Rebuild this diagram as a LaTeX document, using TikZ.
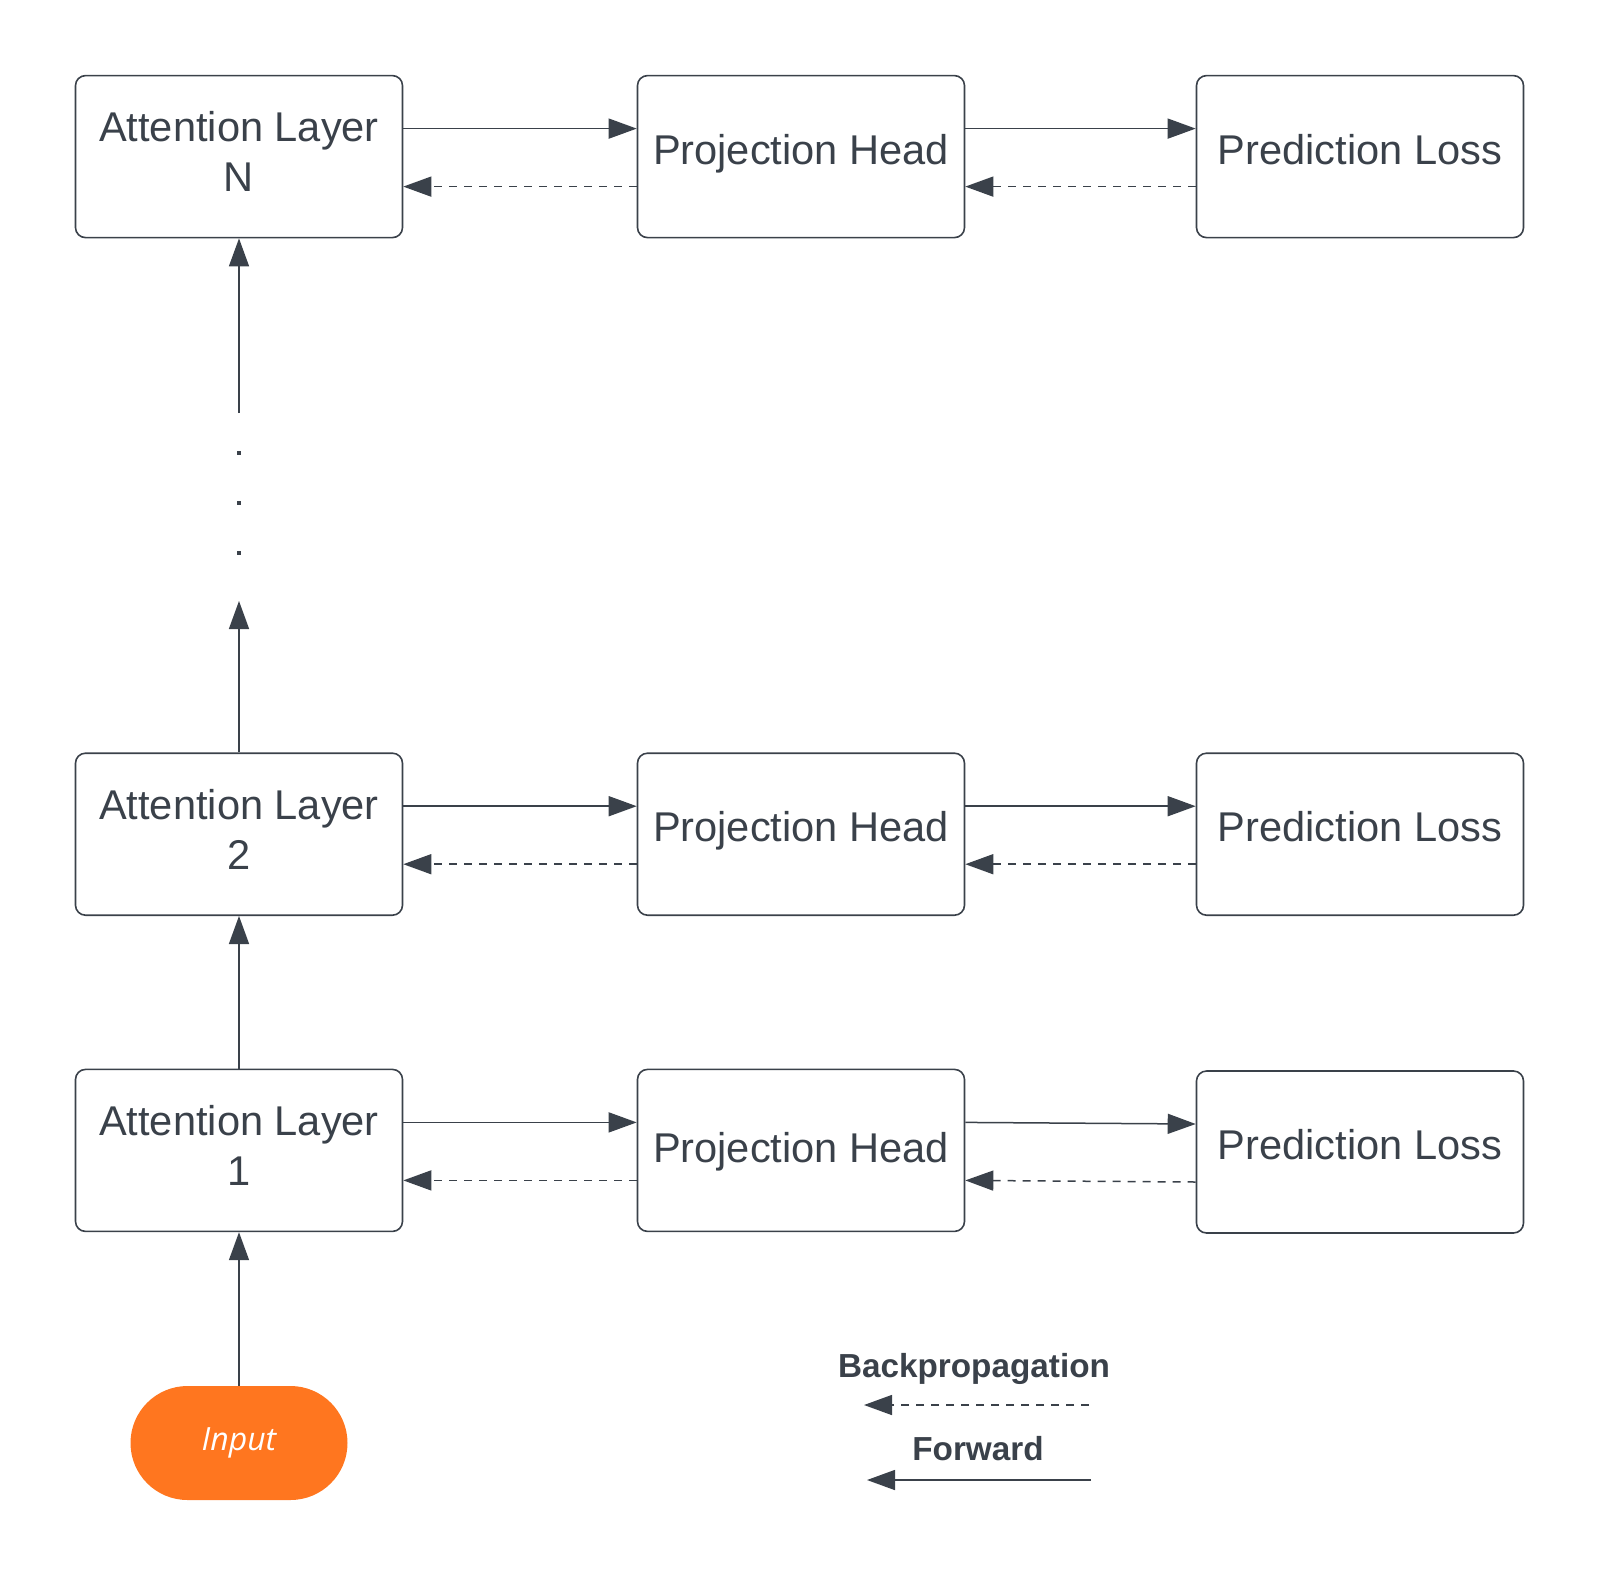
\documentclass[tikz,border=0pt]{standalone}
\usepackage{fontspec}
\setmainfont{Liberation Sans}
\newfontfamily\inputfont{Open Sans}
\usetikzlibrary{arrows.meta}
\definecolor{ink}{HTML}{3A414A}
\definecolor{inputorange}{HTML}{FF761F}

\begin{document}
\begin{tikzpicture}[x=1pt, y=-1pt,
		block/.style={draw=ink, line width=1.6pt, rounded corners=10pt, minimum width=327pt, minimum height=162pt, inner sep=0pt, align=center, text=ink, font=\fontsize{41.6}{50}\selectfont, text height=30pt, text depth=15pt},
		layer/.style={block, text height=80pt, text depth=10pt},
		fwd/.style={draw=ink, line width=1.5pt, -{Triangle[length=28pt, width=20pt]}},
		bwd/.style={fwd, dash pattern=on 8pt off 7pt},
		legend/.style={text=ink, font=\bfseries\fontsize{33.3}{40}\selectfont},
		dot/.style={fill=ink, minimum size=4pt, inner sep=0pt}]
		\useasboundingbox (0,0) rectangle (1599,1575);
		
		\node[layer] (attN) at (239,156.6) {Attention Layer\\N};
		\node[block] (projN) at (801,156.6) {Projection Head};
		\node[block] (predN) at (1360,156.6) {Prediction Loss};
		
		\node[layer] (att2) at (239,834.2) {Attention Layer\\2};
		\node[block] (proj2) at (801,834.2) {Projection Head};
		\node[block] (pred2) at (1360,834.2) {Prediction Loss};
		
		\node[layer] (att1) at (239,1150.4) {Attention Layer\\1};
		\node[block, text height=40pt] (proj1) at (801,1150.4) {Projection Head};
		\node[block] (pred1) at (1360,1152) {Prediction Loss};
		
		\node[fill=inputorange, rounded corners=57pt, minimum width=217pt, minimum height=114pt, text=white, font=\inputfont\itshape\fontsize{32}{38}\selectfont] (input) at (239,1443) {Input};
		
		\foreach \row in {N,2,1} {
			\draw[fwd] ([yshift=28pt]att\row.east) -- ([yshift=28pt]proj\row.west);
			\draw[fwd] ([yshift=28pt]proj\row.east) -- ([yshift=28pt]pred\row.west);
			\draw[bwd] ([yshift=-30pt]proj\row.west) -- ([yshift=-30pt]att\row.east);
			\draw[bwd] ([yshift=-30pt]pred\row.west) -- ([yshift=-30pt]proj\row.east);
		}
		
		\coordinate (gaplow) at (239,601);
		\coordinate (gaphigh) at (239,413);
		\node[dot] (dot1) at (239,453) {};
		\node[dot] (dot2) at (239,503) {};
		\node[dot] (dot3) at (239,553) {};
		
		\draw[fwd] (input) -- (att1);
		\draw[fwd] (att1) -- (att2);
		\draw[fwd] (att2) -- (gaplow);
		\draw[fwd] (gaphigh) -- (attN);
		
		\node[legend] (backlabel) at (974,1368.5) {Backpropagation};
		\coordinate (backstart) at (1089,1405);
		\coordinate (backend) at (864,1405);
		\draw[bwd] (backstart) -- (backend);
		\node[legend] (fwdlabel) at (978,1449) {Forward};
		\coordinate (fwdstart) at (1091,1480);
		\coordinate (fwdend) at (867,1480);
		\draw[fwd] (fwdstart) -- (fwdend);
\end{tikzpicture}
\end{document}
